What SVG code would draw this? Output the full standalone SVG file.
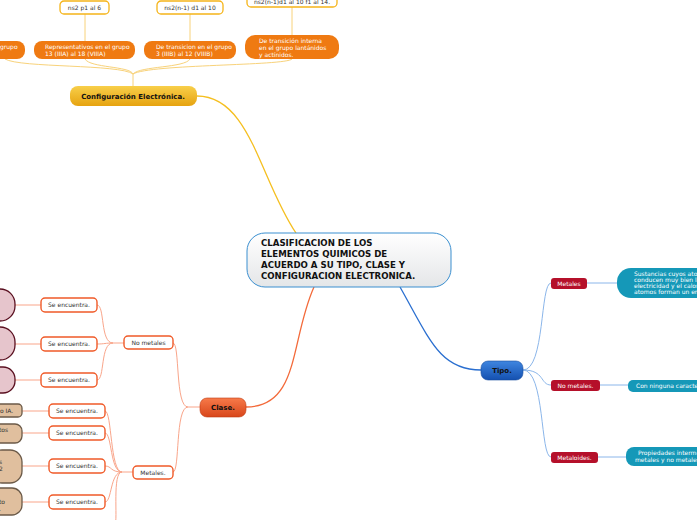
<svg xmlns="http://www.w3.org/2000/svg" width="697" height="520" viewBox="0 0 697 520">
<defs>
<linearGradient id="gc" x1="0" y1="0" x2="0" y2="1"><stop offset="0" stop-color="#ffffff"/><stop offset="1" stop-color="#e4e6e8"/></linearGradient>
<linearGradient id="gy" x1="0" y1="0" x2="0" y2="1"><stop offset="0" stop-color="#f8cf4a"/><stop offset="1" stop-color="#e6a310"/></linearGradient>
<linearGradient id="gb" x1="0" y1="0" x2="0" y2="1"><stop offset="0" stop-color="#3f86e0"/><stop offset="1" stop-color="#1450b0"/></linearGradient>
<linearGradient id="gr" x1="0" y1="0" x2="0" y2="1"><stop offset="0" stop-color="#f77a4a"/><stop offset="1" stop-color="#d8461a"/></linearGradient>
</defs>
<style>
text{font-family:"DejaVu Sans",Verdana,sans-serif;font-size:6px}
.b{font-weight:bold;fill:#111}
.w{fill:#fff}
.d{fill:#333}
.or{fill:#ef7a12}
.ns{fill:#fff;stroke:#f5b418;stroke-width:1.3}
.red{fill:#b5102a}
.teal{fill:#1598b8}
.se{fill:#fff;stroke:#f05a28;stroke-width:1.4}
.pk{fill:#e6c5cc;stroke:#5a1020;stroke-width:1.3}
.tn{fill:#e0bf9e;stroke:#6b5a48;stroke-width:1.3}
.cy{fill:none;stroke:#f8d27a;stroke-width:1}
.cb{fill:none;stroke:#8bb6ea;stroke-width:1}
.co{fill:none;stroke:#f9a58a;stroke-width:1}
</style>
<g id="connectors">
<path d="M197,96 C250,96 260,180 296,233" fill="none" stroke="#f5bf20" stroke-width="1.3"/>
<path d="M400,287 C430,340 440,370 481,370" fill="none" stroke="#2a6fd0" stroke-width="1.3"/>
<path d="M314,287 C290,340 300,407 246,407" fill="none" stroke="#f36a3a" stroke-width="1.3"/>
<path class="cy" d="M133,86 V74 M133,74 C120,64 20,68 5,59 M133,74 C130,66 90,68 85,59 M133,74 C140,66 185,68 190,59 M133,74 C150,64 285,66 292,59"/>
<path class="cy" d="M85,41 V14 M190,41 V14 M292,35 V7"/>
<path class="cb" d="M523,370 C545,370 540,283 551,283 M523,370 C545,370 540,385 551,385 M523,370 C545,370 540,457 551,457 M587,283 H617 M600,385 H628 M598,457 H626"/>
<path class="co" d="M200,407 H188 C175,407 180,343 173,343 M188,407 C175,407 180,472 173,472"/>
<path class="co" d="M124,343 H113 C100,343 105,305 97,305 M113,343 C105,343 105,344 97,344 M113,343 C100,343 105,380 97,380 M41,305 H15 M41,344 H15 M41,380 H15"/>
<path class="co" d="M133,472 H122 C110,472 112,411 105,411 M122,472 C110,472 112,433 105,433 M122,472 C110,472 112,466 105,466 M122,472 C110,472 112,502 105,502 M122,472 C112,472 118,520 115,525 M49,411 H22 M49,433 H22 M49,466 H22 M49,502 H22"/>
</g>
<g id="center"><rect x="247" y="233" width="204" height="54" rx="18" fill="url(#gc)" stroke="#3a8fd0" stroke-width="1"/>
<text class="b" x="261" y="246" style="font-size:8.6px">CLASIFICACION DE LOS</text>
<text class="b" x="261" y="257" style="font-size:8.6px">ELEMENTOS QUIMICOS DE</text>
<text class="b" x="261" y="268" style="font-size:8.6px">ACUERDO A SU TIPO, CLASE Y</text>
<text class="b" x="261" y="279" style="font-size:8.6px">CONFIGURACION ELECTRONICA.</text></g>
<g id="config"><rect x="70" y="86" width="127" height="20" rx="8" fill="url(#gy)"/><text class="b" x="133" y="99" text-anchor="middle" style="font-size:7px">Configuración Electrónica.</text></g>
<g id="c1"><rect class="or" x="-12" y="41" width="37" height="18" rx="8"/><text class="w" x="0" y="49">grupo</text></g>
<g id="c2"><rect class="or" x="34" y="41" width="101" height="18" rx="8"/><text class="w" x="45" y="49">Representativos en el grupo</text><text class="w" x="45" y="56">13 (IIIA) al 18 (VIIIA)</text></g>
<g id="c3"><rect class="or" x="144" y="41" width="92" height="18" rx="8"/><text class="w" x="156" y="49">De transicion en el grupo</text><text class="w" x="156" y="56">3 (IIIB) al 12 (VIIIB)</text></g>
<g id="c4"><rect class="or" x="245" y="35" width="94" height="24" rx="10"/><text class="w" x="259" y="43">De transición interna</text><text class="w" x="259" y="50">en el grupo  lantánidos</text><text class="w" x="259" y="57">y actínidos.</text></g>
<g id="n1"><rect class="ns" x="60" y="1" width="49" height="13" rx="4"/><text class="d" x="84.5" y="10" text-anchor="middle">ns2 p1 al 6</text></g>
<g id="n2"><rect class="ns" x="157" y="1" width="66" height="13" rx="4"/><text class="d" x="190" y="10" text-anchor="middle">ns2(n-1) d1 al 10</text></g>
<g id="n3"><rect class="ns" x="247" y="-6" width="90" height="13" rx="4"/><text class="d" x="292" y="4" text-anchor="middle">ns2(n-1)d1 al 10 f1 al 14.</text></g>
<g id="tipo"><rect x="481" y="361" width="42" height="19" rx="7" fill="url(#gb)" stroke="#1a4fa0" stroke-width="0.6"/><text class="b" x="502" y="373" text-anchor="middle" style="font-size:7px">Tipo.</text></g>
<g id="t1"><rect class="red" x="551" y="278" width="36" height="11" rx="3"/><text class="w" x="569" y="286" text-anchor="middle">Metales</text></g>
<g id="t2"><rect class="red" x="551" y="380" width="49" height="11" rx="3"/><text class="w" x="575.5" y="388" text-anchor="middle">No metales.</text></g>
<g id="t3"><rect class="red" x="551" y="452" width="47" height="11" rx="3"/><text class="w" x="574.5" y="460" text-anchor="middle">Metaloides.</text></g>
<g id="d1"><rect class="teal" x="617" y="268" width="100" height="30" rx="14"/><text class="w" x="634" y="276">Sustancias cuyos atom</text><text class="w" x="634" y="282">conducen muy bien la</text><text class="w" x="634" y="288">electricidad y el calor, l</text><text class="w" x="634" y="294">atomos forman un enla</text></g>
<g id="d2"><rect class="teal" x="628" y="380" width="80" height="12" rx="5"/><text class="w" x="636" y="388">Con ninguna caracterí</text></g>
<g id="d3"><rect class="teal" x="626" y="447" width="80" height="19" rx="8"/><text class="w" x="638" y="455">Propiedades intermed</text><text class="w" x="635" y="462">metales y no metales</text></g>
<g id="clase"><rect x="200" y="398" width="46" height="19" rx="7" fill="url(#gr)" stroke="#c03a10" stroke-width="0.6"/><text class="b" x="223" y="410" text-anchor="middle" style="font-size:7px">Clase.</text></g>
<g id="nm"><rect class="se" x="124" y="336" width="49" height="13" rx="4"/><text class="d" x="148.5" y="345" text-anchor="middle">No metales</text></g>
<g id="mt"><rect class="se" x="133" y="466" width="40" height="13" rx="4"/><text class="d" x="153" y="475" text-anchor="middle">Metales.</text></g>
<g id="s1"><rect class="se" x="41" y="298" width="56" height="14" rx="4"/><text class="d" x="69" y="307" text-anchor="middle">Se encuentra.</text></g>
<g id="s2"><rect class="se" x="41" y="337" width="56" height="14" rx="4"/><text class="d" x="69" y="346" text-anchor="middle">Se encuentra.</text></g>
<g id="s3"><rect class="se" x="41" y="373" width="56" height="14" rx="4"/><text class="d" x="69" y="382" text-anchor="middle">Se encuentra.</text></g>
<g id="s4"><rect class="se" x="49" y="404" width="56" height="14" rx="4"/><text class="d" x="77" y="413" text-anchor="middle">Se encuentra.</text></g>
<g id="s5"><rect class="se" x="49" y="426" width="56" height="14" rx="4"/><text class="d" x="77" y="435" text-anchor="middle">Se encuentra.</text></g>
<g id="s6"><rect class="se" x="49" y="459" width="56" height="14" rx="4"/><text class="d" x="77" y="468" text-anchor="middle">Se encuentra.</text></g>
<g id="s7"><rect class="se" x="49" y="495" width="56" height="14" rx="4"/><text class="d" x="77" y="504" text-anchor="middle">Se encuentra.</text></g>
<g id="p1"><rect class="pk" x="-20" y="289" width="35" height="32" rx="15"/></g>
<g id="p2"><rect class="pk" x="-20" y="327" width="35" height="33" rx="15"/></g>
<g id="p3"><rect class="pk" x="-20" y="367" width="35" height="26" rx="12"/></g>
<g id="b1"><rect class="tn" x="-10" y="404" width="32" height="13" rx="4"/><text class="d" x="0" y="413">o IA.</text></g>
<g id="b2"><rect class="tn" x="-10" y="424" width="32" height="19" rx="7"/><text class="d" x="-1" y="432">tos</text></g>
<g id="b3"><rect class="tn" x="-10" y="450" width="32" height="33" rx="12"/><text class="d" x="-1" y="464">s</text><text class="d" x="-1" y="471">2</text></g>
<g id="b4"><rect class="tn" x="-10" y="488" width="32" height="27" rx="10"/><text class="d" x="-1" y="504">to</text><text class="d" x="-1" y="511">.</text></g>
</svg>
